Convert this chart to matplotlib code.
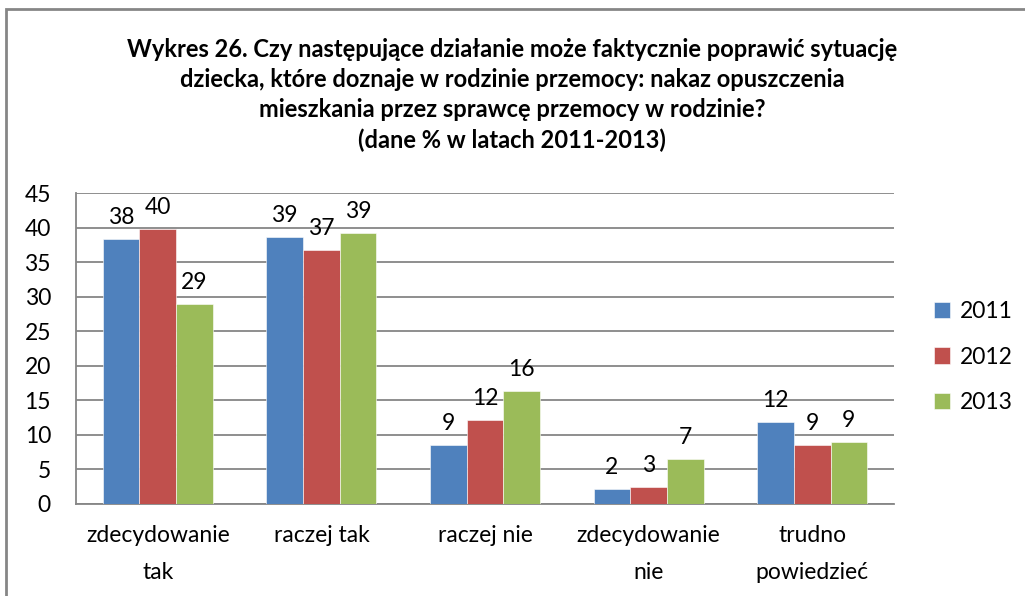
import numpy as np
import matplotlib.pyplot as plt
from matplotlib.patches import Rectangle

plt.rcParams['font.family'] = ['Lato', 'DejaVu Sans']

# data
categories = ["zdecydowanie\ntak", "raczej tak", "raczej nie", "zdecydowanie\nnie", "trudno\npowiedzieć"]
years = ["2011", "2012", "2013"]
v2011 = [38.4, 38.6, 8.5, 2.2, 11.9]
v2012 = [39.8, 36.8, 12.2, 2.5, 8.5]
v2013 = [28.9, 39.2, 16.3, 6.5, 9.0]
labels2011 = [38, 39, 9, 2, 12]
labels2012 = [40, 37, 12, 3, 9]
labels2013 = [29, 39, 16, 7, 9]

series = [v2011, v2012, v2013]
series_labels = [labels2011, labels2012, labels2013]
colors = ["#4F81BD", "#C0504D", "#9BBB59"]

title = ("Wykres 26. Czy następujące działanie może faktycznie poprawić sytuację\n"
         "dziecka, które doznaje w rodzinie przemocy: nakaz opuszczenia\n"
         "mieszkania przez sprawcę przemocy w rodzinie?\n"
         "(dane % w latach 2011-2013)")

fs = 16.5

fig = plt.figure(figsize=(10.25, 5.96), dpi=100)
W, H = 1025, 596
ax = fig.add_axes([76 / W, 1 - 504 / H, (894 - 76) / W, (504 - 193) / H])

# outer frame of the chart (right and bottom edges fall outside the picture)
fig.patches.append(Rectangle((6 / W, -0.05), 1.2, 1 - 9 / H + 0.05, transform=fig.transFigure,
                             fill=False, edgecolor="#868686", linewidth=2))

x = np.arange(len(categories))
bw = 0.224
for i, (vals, labs) in enumerate(zip(series, series_labels)):
    pos = x + (i - 1) * bw
    bars = ax.bar(pos, vals, width=bw, color=colors[i], label=years[i], zorder=3,
                  edgecolor="white", linewidth=0.4)
    for b, lab in zip(bars, labs):
        ax.annotate(str(lab), (b.get_x() + b.get_width() / 2, b.get_height()),
                    xytext=(0, 8), textcoords="offset points", ha="center", va="bottom",
                    fontsize=fs)

ax.set_ylim(0, 45)
ax.set_yticks(range(0, 46, 5))
ax.set_xlim(-0.5, len(categories) - 0.5)
ax.set_xticks(x)
ax.set_xticklabels(categories, fontsize=fs, linespacing=1.95)
ax.tick_params(axis="y", labelsize=fs, length=0, pad=18)
ax.tick_params(axis="x", length=0, pad=15)
ax.grid(axis="y", color="#868686", linewidth=1.3, zorder=0)
for s in ["top", "right"]:
    ax.spines[s].set_visible(False)
for s in ["left", "bottom"]:
    ax.spines[s].set_color("#868686")
    ax.spines[s].set_linewidth(1.3)

fig.text(512 / W, 1 - 95 / H, title, ha="center", va="center", fontsize=17,
         fontweight="bold", linespacing=1.36)

ax.legend(loc="center left", bbox_to_anchor=(913 / W, 1 - 357 / H), bbox_transform=fig.transFigure,
          frameon=False, fontsize=fs, handlelength=0.7, handleheight=0.7,
          handletextpad=0.45, labelspacing=1.05)

fig.savefig("out.png", dpi=100)
